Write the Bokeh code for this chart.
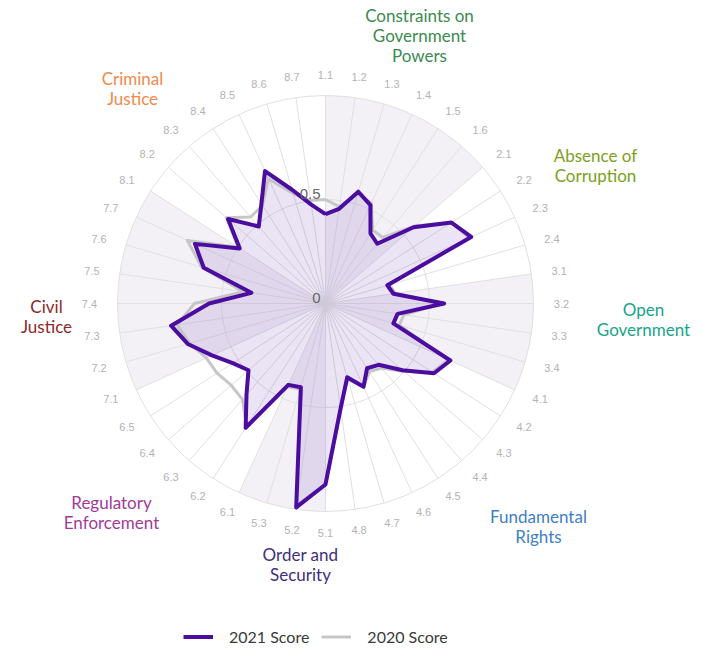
import math
from bokeh.plotting import figure
from bokeh.models import Legend, LegendItem
from bokeh.core.properties import value
from bokeh.embed import file_html
from bokeh.resources import INLINE

# ---------------- data ----------------
categories = ["1.1", "1.2", "1.3", "1.4", "1.5", "1.6",
              "2.1", "2.2", "2.3", "2.4",
              "3.1", "3.2", "3.3", "3.4",
              "4.1", "4.2", "4.3", "4.4", "4.5", "4.6", "4.7", "4.8",
              "5.1", "5.2", "5.3",
              "6.1", "6.2", "6.3", "6.4", "6.5",
              "7.1", "7.2", "7.3", "7.4", "7.5", "7.6", "7.7",
              "8.1", "8.2", "8.3", "8.4", "8.5", "8.6", "8.7"]

score_2021 = [0.43, 0.46, 0.56, 0.52, 0.40, 0.38,
              0.56, 0.72, 0.77, 0.31,
              0.33, 0.57, 0.35, 0.34,
              0.66, 0.62, 0.49, 0.39, 0.37, 0.44, 0.37, 0.51,
              0.87, 0.99, 0.42,
              0.43, 0.71, 0.58, 0.49, 0.53,
              0.60, 0.69, 0.75, 0.56, 0.36, 0.61, 0.69,
              0.49, 0.62, 0.49, 0.57, 0.70, 0.57, 0.48]

score_2020 = [0.50, 0.47, 0.55, 0.53, 0.42, 0.42,
              0.57, 0.72, 0.76, 0.32,
              0.34, 0.56, 0.38, 0.37,
              0.65, 0.61, 0.50, 0.41, 0.39, 0.44, 0.38, 0.51,
              0.87, 0.98, 0.43,
              0.44, 0.70, 0.61, 0.60, 0.62,
              0.63, 0.68, 0.72, 0.63, 0.40, 0.62, 0.73,
              0.50, 0.63, 0.55, 0.56, 0.66, 0.55, 0.50]

factor_names = ["Constraints on\nGovernment\nPowers", "Absence of\nCorruption",
                "Open\nGovernment", "Fundamental\nRights", "Order and\nSecurity",
                "Regulatory\nEnforcement", "Civil\nJustice", "Criminal\nJustice"]
factor_first = ["1.1", "2.1", "3.1", "4.1", "5.1", "6.1", "7.1", "8.1"]
factor_colors = ["#3c8a4f", "#79a11d", "#17a589", "#3d80c7",
                 "#3f2e80", "#a23a9b", "#8b2a2c", "#f08a4c"]
radial_ticks = [0, 0.5]
radial_tick_labels = ["0", "0.5"]
series_names = ["2021 Score", "2020 Score"]

# ---------------- layout constants ----------------
W, H = 703, 648
CX, CY = 325, 303          # chart centre in canvas pixels (from top-left)
R = 208                    # pixel radius of value 1.0
PURPLE = "#4b0ca0"
GREY = "#c6c6c6"
GRID = "#e0e0e0"
BAND = "#f3f1f5"

# factor label centres (offsets from chart centre, px, y up)
factor_label_pos = [(94, 268), (270, 138), (318, -16), (213, -223),
                    (-25, -261), (-214, -209), (-279, -13), (-193, 215)]

p = figure(width=W, height=H, x_range=(-CX, W - CX), y_range=(CY - H, CY),
           x_axis_type=None, y_axis_type=None, toolbar_location=None,
           output_backend="svg", min_border=0, outline_line_color=None)
p.background_fill_color = "white"
p.border_fill_color = "white"

n = len(categories)
theta = [2 * math.pi * i / n for i in range(n)]

# alternating factor bands
starts = [categories.index(f) for f in factor_first] + [n]
for k in range(len(factor_first)):
    if k % 2 == 0:
        t0 = theta[starts[k]]
        t1 = 2 * math.pi * starts[k + 1] / n
        p.wedge(x=0, y=0, radius=R, start_angle=math.pi / 2 - t1,
                end_angle=math.pi / 2 - t0, fill_color=BAND, line_color=None)

# spokes
p.segment(x0=[0] * n, y0=[0] * n,
          x1=[R * math.sin(t) for t in theta], y1=[R * math.cos(t) for t in theta],
          line_color=GRID, line_width=1)

# circular grid
p.circle(x=[0, 0], y=[0, 0], radius=[R * 0.5, R * 1.0], fill_color=None,
         line_color=GRID, line_width=1)


def xy(vals):
    xs = [R * v * math.sin(t) for v, t in zip(vals, theta)]
    ys = [R * v * math.cos(t) for v, t in zip(vals, theta)]
    return xs, ys


x21, y21 = xy(score_2021)
x20, y20 = xy(score_2020)

p.patch(x21, y21, fill_color=PURPLE, fill_alpha=0.11, line_color=None)
r20 = p.line(x20 + [x20[0]], y20 + [y20[0]], line_color=GREY, line_width=3,
             line_join="round")
r21 = p.line(x21 + [x21[0]], y21 + [y21[0]], line_color=PURPLE, line_width=4,
             line_join="round")

# radial tick labels
p.text(x=[-5] * len(radial_ticks), y=[R * v + 1 for v in radial_ticks],
       text=radial_tick_labels, text_align="right", text_baseline="bottom",
       text_font=value("Liberation Sans"), text_font_size="15px", text_color="#666666")

# category labels
p.text(x=[236 * math.sin(t) for t in theta], y=[229 * math.cos(t) for t in theta],
       text=categories, text_align="center", text_baseline="middle",
       text_font=value("Liberation Sans"), text_font_size="11px", text_color="#b3b3b3")

# factor labels
p.text(x=[a for a, b in factor_label_pos], y=[b for a, b in factor_label_pos],
       text=factor_names, text_align="center", text_baseline="middle",
       text_font=value("Lato"), text_font_size="17px", text_color=factor_colors,
       text_line_height=0.95)

legend = Legend(items=[LegendItem(label=series_names[0], renderers=[r21]),
                       LegendItem(label=series_names[1], renderers=[r20])],
                orientation="horizontal", location=(183, 2),
                glyph_width=30, glyph_height=17, label_standoff=16, spacing=12,
                padding=0, margin=0, border_line_color=None,
                background_fill_alpha=0,
                label_text_font="Lato", label_text_font_size="16px",
                label_text_color="#3a3a3a")
p.add_layout(legend, "center")

open("out.html", "w").write(file_html(p, INLINE))
